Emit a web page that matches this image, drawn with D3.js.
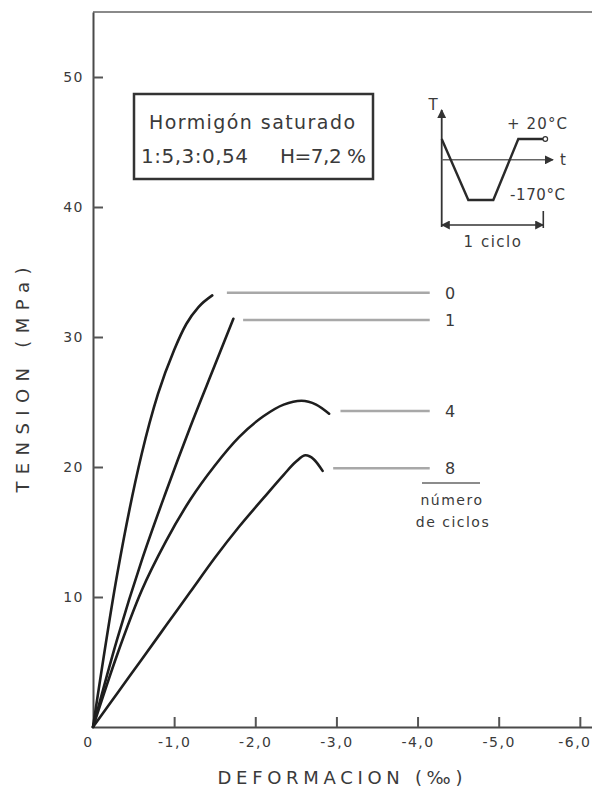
<!DOCTYPE html>
<html>
<head>
<meta charset="utf-8">
<script src="https://cdn.jsdelivr.net/npm/d3@7"></script>
<style>
  html, body { margin: 0; padding: 0; background: #fff; }
  svg { display: block; }
  text { font-family: "DejaVu Sans", sans-serif; fill: #3a3a3a; }
</style>
</head>
<body>
<svg id="chart" width="592" height="802"></svg>
<script>
// ---------- data ----------
const seriesNames = ["0", "1", "4", "8"];           // número de ciclos
// strain (‰, compression negative) and stress (MPa)
const strain0 = [0, -0.3, -0.6, -0.8, -1.0, -1.15, -1.3, -1.47];
const stress0 = [0, 11.8, 21.0, 25.6, 29.0, 31.0, 32.3, 33.2];
const strain1 = [0, -0.3, -0.6, -0.9, -1.2, -1.5, -1.73];
const stress1 = [0, 6.8, 12.8, 18.1, 23.1, 27.8, 31.4];
const strain4 = [0, -0.3, -0.6, -0.9, -1.2, -1.5, -1.8, -2.1, -2.35, -2.57, -2.75, -2.91];
const stress4 = [0, 5.6, 10.5, 14.3, 17.5, 20.1, 22.3, 23.9, 24.8, 25.1, 24.8, 24.1];
const strain8 = [0, -0.3, -0.6, -0.9, -1.2, -1.5, -1.8, -2.1, -2.35, -2.5, -2.62, -2.72, -2.83];
const stress8 = [0, 2.6, 5.2, 7.8, 10.4, 13.0, 15.4, 17.6, 19.4, 20.4, 20.9, 20.6, 19.7];
// leader lines to the cycle labels
const leaderStress = [33.4, 31.3, 24.3, 19.9];
const leaderStart  = [-1.65, -1.85, -3.05, -2.96];
const leaderEnd = -4.15;
const labelStrain = -4.4;

const xTicks = [0, -1, -2, -3, -4, -5, -6];
const xTickLabels = ["0", "-1,0", "-2,0", "-3,0", "-4,0", "-5,0", "-6,0"];
const yTicks = [10, 20, 30, 40, 50];
const yTickLabels = ["10", "20", "30", "40", "50"];

// inset (schematic thermal cycle)
const insetTime = [0, 0.262, 0.508, 0.754, 1.0];
const insetTemp = [20, -170, -170, 20, 20];
const insetAxisTemp = -45;

// ---------- drawing ----------
const svg = d3.select("#chart");
const x = d3.scaleLinear().domain([0, -6.15]).range([93, 592]);
const y = d3.scaleLinear().domain([0, 55]).range([727, 12]);

// top frame line
svg.append("line").attr("x1", x(0)).attr("x2", x(-6.15))
  .attr("y1", y(55)).attr("y2", y(55))
  .attr("stroke", "#8a8a8a").attr("stroke-width", 2);

// axes
const yAxis = d3.axisLeft(y).tickValues(yTicks)
  .tickFormat((d, i) => yTickLabels[i]).tickSize(-10).tickSizeOuter(0).tickPadding(9);
const gy = svg.append("g").attr("transform", `translate(${x(0)},0)`).call(yAxis);
const xAxis = d3.axisBottom(x).tickValues(xTicks)
  .tickFormat((d, i) => xTickLabels[i]).tickSize(-10).tickSizeOuter(0).tickPadding(10);
const gx = svg.append("g").attr("transform", `translate(0,${y(0)})`).call(xAxis);
[gx, gy].forEach(g => {
  g.select(".domain").attr("stroke", "#4a4a4a").attr("stroke-width", 2);
  g.selectAll(".tick line").attr("stroke", "#555").attr("stroke-width", 2);
  g.selectAll(".tick text").attr("font-size", 14).attr("fill", "#4a4a4a")
    .attr("font-family", "DejaVu Sans, sans-serif").attr("letter-spacing", 1.5);
});
gx.selectAll(".tick").filter(d => d === 0).select("line").remove();
gx.selectAll(".tick").filter(d => d === 0).select("text").attr("dx", -5);
gx.selectAll(".tick").filter(d => d === -6).select("text")
  .attr("text-anchor", "end").attr("x", 591 - x(-6));

// axis titles
svg.append("text").attr("x", 340).attr("y", 784).attr("text-anchor", "middle")
  .attr("font-size", 18).attr("textLength", 245).attr("lengthAdjust", "spacing")
  .attr("fill", "#3a3a3a").text("DEFORMACION (‰)");
svg.append("text").attr("transform", "translate(29,380) rotate(-90)")
  .attr("text-anchor", "middle").attr("font-size", 18)
  .attr("textLength", 225).attr("lengthAdjust", "spacing")
  .attr("fill", "#3a3a3a").text("TENSION (MPa)");

// curves
const line = d3.line().x(d => x(d[0])).y(d => y(d[1])).curve(d3.curveMonotoneX);
const curves = [
  d3.zip(strain0, stress0), d3.zip(strain1, stress1),
  d3.zip(strain4, stress4), d3.zip(strain8, stress8)
];
svg.append("g").selectAll("path").data(curves).join("path")
  .attr("d", line).attr("fill", "none").attr("stroke", "#1e1e1e")
  .attr("stroke-width", 2.6).attr("stroke-linecap", "round");

// leader lines and labels
svg.append("g").selectAll("line").data(seriesNames).join("line")
  .attr("x1", (d, i) => x(leaderStart[i])).attr("x2", x(leaderEnd))
  .attr("y1", (d, i) => y(leaderStress[i])).attr("y2", (d, i) => y(leaderStress[i]))
  .attr("stroke", "#a8a8a8").attr("stroke-width", 2.5);
svg.append("g").selectAll("text").data(seriesNames).join("text")
  .attr("x", x(labelStrain)).attr("y", (d, i) => y(leaderStress[i]))
  .attr("dy", "0.36em").attr("text-anchor", "middle").attr("font-size", 16)
  .attr("fill", "#3a3a3a").text(d => d);
svg.append("line").attr("x1", 422).attr("x2", 480).attr("y1", 483).attr("y2", 483)
  .attr("stroke", "#666").attr("stroke-width", 1.5);
svg.append("text").attr("x", 452).attr("y", 505).attr("text-anchor", "middle")
  .attr("font-size", 14).attr("letter-spacing", 1.5).text("número");
svg.append("text").attr("x", 453).attr("y", 527).attr("text-anchor", "middle")
  .attr("font-size", 14).attr("letter-spacing", 1.5).text("de ciclos");

// info box
svg.append("rect").attr("x", 134).attr("y", 94).attr("width", 239).attr("height", 85)
  .attr("fill", "#fff").attr("stroke", "#333").attr("stroke-width", 2.5);
svg.append("text").attr("x", 252).attr("y", 129).attr("text-anchor", "middle")
  .attr("font-size", 19).attr("textLength", 206).attr("lengthAdjust", "spacing")
  .text("Hormigón saturado");
svg.append("text").attr("x", 141).attr("y", 163).attr("font-size", 20)
  .attr("textLength", 107).attr("lengthAdjust", "spacing").text("1:5,3:0,54");
svg.append("text").attr("x", 280).attr("y", 163)
  .attr("font-size", 20).attr("textLength", 86).attr("lengthAdjust", "spacing").text("H=7,2 %");

// inset
const ix = d3.scaleLinear().domain([0, 1]).range([441.7, 543.3]);
const iy = d3.scaleLinear().domain([20, -170]).range([139, 200]);
const defs = svg.append("defs");
defs.append("marker").attr("id", "arr").attr("viewBox", "0 0 10 10")
  .attr("refX", 9).attr("refY", 5).attr("markerWidth", 9).attr("markerHeight", 9)
  .attr("markerUnits", "userSpaceOnUse").attr("orient", "auto-start-reverse")
  .append("path").attr("d", "M0,0 L10,5 L0,10 z").attr("fill", "#333");
const ins = svg.append("g");
ins.append("line").attr("x1", ix(0)).attr("x2", ix(0)).attr("y1", 227).attr("y2", 110)
  .attr("stroke", "#333").attr("stroke-width", 1.8).attr("marker-end", "url(#arr)");
ins.append("line").attr("x1", ix(0)).attr("x2", 553).attr("y1", iy(insetAxisTemp)).attr("y2", iy(insetAxisTemp))
  .attr("stroke", "#666").attr("stroke-width", 1.5).attr("marker-end", "url(#arr)");
ins.append("path").attr("d", d3.line()(d3.zip(insetTime.map(ix), insetTemp.map(iy))))
  .attr("fill", "none").attr("stroke", "#2a2a2a").attr("stroke-width", 2.4);
ins.append("circle").attr("cx", ix(1) + 2).attr("cy", iy(20)).attr("r", 2.3)
  .attr("fill", "#fff").attr("stroke", "#333").attr("stroke-width", 1.2);
ins.append("line").attr("x1", ix(0)).attr("x2", ix(1)).attr("y1", 225).attr("y2", 225)
  .attr("stroke", "#333").attr("stroke-width", 1.6)
  .attr("marker-start", "url(#arr)").attr("marker-end", "url(#arr)");
ins.append("line").attr("x1", ix(1)).attr("x2", ix(1)).attr("y1", 211).attr("y2", 228)
  .attr("stroke", "#333").attr("stroke-width", 1.6);
ins.append("text").attr("x", 433).attr("y", 110).attr("text-anchor", "middle")
  .attr("font-size", 15).text("T");
ins.append("text").attr("x", 563).attr("y", iy(insetAxisTemp)).attr("dy", "0.36em")
  .attr("text-anchor", "middle").attr("font-size", 15).text("t");
ins.append("text").attr("x", 507).attr("y", 129).attr("font-size", 15)
  .attr("textLength", 60).attr("lengthAdjust", "spacing").text("+ 20°C");
ins.append("text").attr("x", 510).attr("y", 200).attr("font-size", 15)
  .attr("textLength", 55).attr("lengthAdjust", "spacing").text("-170°C");
ins.append("text").attr("x", 493).attr("y", 247).attr("text-anchor", "middle")
  .attr("font-size", 15).attr("letter-spacing", 1.5).text("1 ciclo");
</script>
</body>
</html>
